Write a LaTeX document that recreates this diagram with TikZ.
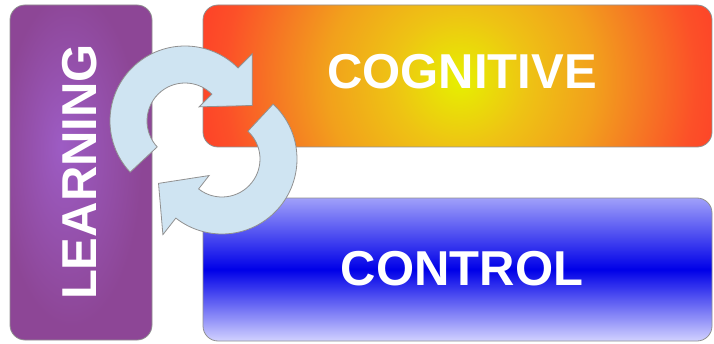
\documentclass[tikz,border=0pt]{standalone}
\usepackage{fontspec}
\setsansfont{Liberation Sans}
\definecolor{lrnlight}{RGB}{157, 92, 196}
\definecolor{lrndark}{RGB}{141, 70, 150}
\definecolor{cogyellow}{RGB}{230, 240, 0}
\definecolor{cogamber}{RGB}{238, 195, 20}
\definecolor{cogsaffron}{RGB}{242, 160, 28}
\definecolor{cogorange}{RGB}{245, 125, 35}
\definecolor{cogvermil}{RGB}{252, 80, 40}
\definecolor{cogred}{RGB}{255, 60, 40}
\definecolor{ctltop}{RGB}{160, 160, 250}
\definecolor{ctlblue}{RGB}{0, 0, 232}
\definecolor{ctlbottom}{RGB}{210, 210, 255}
\definecolor{cycleblue}{RGB}{207, 228, 242}
\definecolor{rimgray}{RGB}{145, 145, 145}
\usetikzlibrary{calc}
\pgfdeclareradialshading{lrnglow}{\pgfpoint{-7bp}{4bp}}{color(0bp)=(lrnlight); color(25bp)=(lrndark); color(50bp)=(lrndark)}
\pgfdeclareradialshading{coghot}{\pgfpoint{0bp}{0bp}}{color(0bp)=(cogyellow); color(6bp)=(cogamber); color(12bp)=(cogsaffron); color(16bp)=(cogorange); color(21bp)=(cogvermil); color(25bp)=(cogred); color(50bp)=(cogred)}
\tikzset{
  panel/.style={draw=rimgray, line width=0.8pt, rounded corners=15pt, inner sep=0pt},
  panellabel/.style={font=\sffamily\bfseries\fontsize{49}{49}\selectfont, text=white, inner sep=0pt},
  cyclearrow/.style={fill=cycleblue, draw=rimgray, line width=0.8pt, line join=miter},
}

\begin{document}
\begin{tikzpicture}[x=1pt, y=1pt]
\useasboundingbox (0,0) rectangle (714,343);

% Panels
\node[panel, shade, shading=lrnglow, minimum width=142pt, minimum height=335pt] (learning) at (81,170.5) {};
\node[panel, minimum width=509pt, minimum height=142pt,
  path picture={\shade[shading=coghot] ($(path picture bounding box.center)+(2.5,-4)$) circle (280pt);}] (cognitive) at (457.5,267) {};
\node[panel, top color=ctltop, bottom color=ctlbottom, middle color=ctlblue, minimum width=509pt, minimum height=143pt] (control) at (457.5,73.5) {};

% Panel labels
\node[panellabel, rotate=90] (learninglabel) at (79.5,171) {LEARNING};
\node[panellabel] (cognitivelabel) at (462,271) {COGNITIVE};
\node[panellabel] (controllabel) at (462,74) {CONTROL};

% Cycle arrows
\coordinate (upperhub) at (185,222);
\coordinate (lowerhub) at (222,184);

\draw[cyclearrow] ($(upperhub)+(223:75pt)$) arc[start angle=223, end angle=45, radius=75pt]
  -- ($(upperhub)+(45:95pt)$) -- ($(upperhub)+(13:69pt)$) -- ($(upperhub)+(45:20pt)$)
  -- ($(upperhub)+(45:38pt)$) arc[start angle=45, end angle=223, radius=38pt] -- cycle;

\draw[cyclearrow] ($(lowerhub)+(47:75pt)$) arc[start angle=47, end angle=-128, radius=75pt]
  -- ($(lowerhub)+(232:96pt)$) -- ($(lowerhub)+(201:68pt)$) -- ($(lowerhub)+(232:21pt)$)
  -- ($(lowerhub)+(232:38pt)$) arc[start angle=-128, end angle=47, radius=38pt] -- cycle;
\end{tikzpicture}
\end{document}
